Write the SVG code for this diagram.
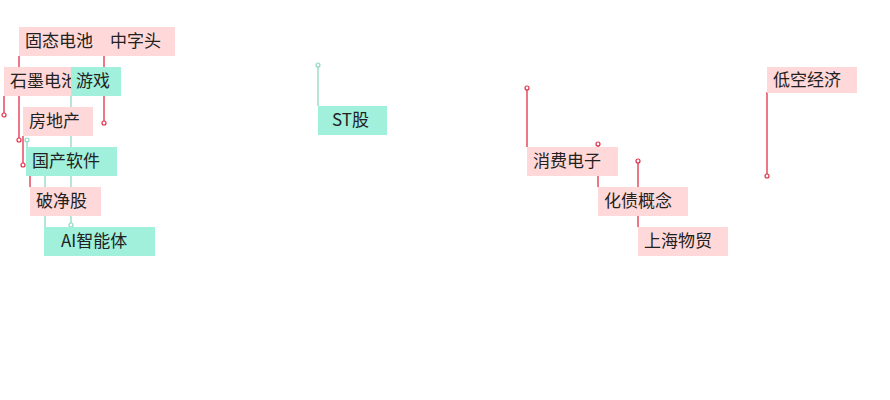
<svg xmlns="http://www.w3.org/2000/svg" width="890" height="400" viewBox="0 0 890 400">
<style>
.p{fill:#ffd9d9}.t{fill:#a0f0dc}
.r{stroke:#e0304a;stroke-width:1.3;fill:none}.g{stroke:#8fd8c4;stroke-width:1.3;fill:none}
.dr{fill:#fff;stroke:#e0304a;stroke-width:1.2}.dg{fill:#fff;stroke:#8fd8c4;stroke-width:1.2}
text{font-family:"Noto Sans CJK SC","Noto Sans",sans-serif;font-size:17px;fill:#222}
</style>
<rect width="890" height="400" fill="#fff"/>
<g id="connectors">
<path class="r" d="M19 56V140M104 56V123M4 96V115M23 136V165M30 176V187"/>
<path class="g" d="M71 96V225M27 140V147M45 176V227M318 65V106"/>
<path class="r" d="M527 88V147M598 144V187M638 161V227M767 92V176"/>
<circle class="dr" cx="19" cy="140" r="2"/><circle class="dr" cx="104" cy="123" r="2"/><circle class="dr" cx="4" cy="115" r="2"/><circle class="dr" cx="23" cy="165" r="2"/>
<circle class="dg" cx="27" cy="140" r="2"/><circle class="dg" cx="71" cy="225" r="2"/><circle class="dg" cx="318" cy="65" r="2"/>
<circle class="dr" cx="527" cy="88" r="2"/><circle class="dr" cx="598" cy="144" r="2"/><circle class="dr" cx="638" cy="161" r="2"/><circle class="dr" cx="767" cy="176" r="2"/>
</g>
<g id="n1"><rect class="p" x="19" y="27" width="86" height="29"/><text x="25" y="47">固态电池</text></g>
<g id="n2"><rect class="p" x="104" y="27" width="71" height="29"/><text x="110" y="47">中字头</text></g>
<g id="n3"><rect class="p" x="4" y="67" width="70" height="29"/><text x="10" y="87">石墨电池</text></g>
<g id="n4"><rect class="t" x="71" y="67" width="50" height="29"/><text x="76" y="87">游戏</text></g>
<g id="n5"><rect class="p" x="23" y="107" width="70" height="29"/><text x="29" y="127">房地产</text></g>
<g id="n6"><rect class="t" x="26" y="147" width="91" height="29"/><text x="32" y="167">国产软件</text></g>
<g id="n7"><rect class="p" x="30" y="187" width="71" height="29"/><text x="36" y="207">破净股</text></g>
<g id="n8"><rect class="t" x="44" y="227" width="111" height="29"/><text x="61" y="247">AI智能体</text></g>
<g id="n9"><rect class="t" x="318" y="106" width="69" height="29"/><text x="332" y="126">ST股</text></g>
<g id="n10"><rect class="p" x="527" y="147" width="91" height="29"/><text x="533" y="167">消费电子</text></g>
<g id="n11"><rect class="p" x="598" y="187" width="90" height="29"/><text x="604" y="207">化债概念</text></g>
<g id="n12"><rect class="p" x="638" y="227" width="90" height="29"/><text x="644" y="247">上海物贸</text></g>
<g id="n13"><rect class="p" x="767" y="67" width="90" height="26"/><text x="773" y="86">低空经济</text></g>
</svg>
